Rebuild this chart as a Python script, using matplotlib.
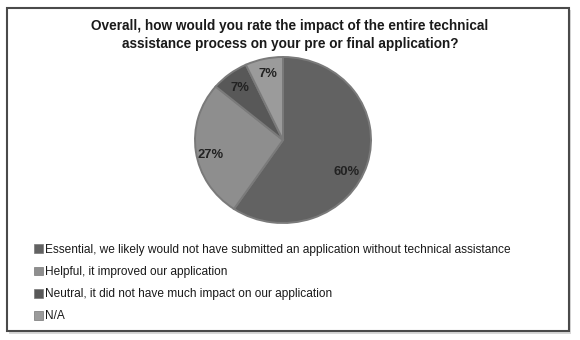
import matplotlib.pyplot as plt
from matplotlib.patches import Rectangle, Patch

plt.rcParams.update({'font.family': ['Liberation Sans', 'DejaVu Sans']})

# --- dados da pesquisa ---
categories = [
    'Essential, we likely would not have submitted an application without technical assistance',
    'Helpful, it improved our application',
    'Neutral, it did not have much impact on our application',
    'N/A',
]
percents = [60, 27, 7, 7]
colors = ['#626262', '#8e8e8e', '#585858', '#9b9b9b']
title = ('Overall, how would you rate the impact of the entire technical\n'
         'assistance process on your pre or final application?')

W, H = 580, 340
fig = plt.figure(figsize=(W / 100, H / 100), dpi=100)
fig.patch.set_facecolor('white')

# moldura com sombra leve (atrás dos eixos)
fig.patches.append(Rectangle((9 / W, 1 - 334 / H), 562 / W, 324 / H, transform=fig.transFigure,
                             facecolor='#d8d8d8', edgecolor='none', zorder=-2))
fig.patches.append(Rectangle((7 / W, 1 - 331 / H), 562 / W, 323 / H, transform=fig.transFigure,
                             facecolor='white', edgecolor='#4a4a4a', linewidth=1.5, zorder=-1))

fig.text(290 / W, 1 - 35 / H, title, ha='center', va='center', fontsize=9.8,
         fontweight='bold', color='#1a1a1a', linespacing=1.45)

# pizza (levemente elíptica)
cx, cy, rx, ry = 283, 140, 88, 83
ax = fig.add_axes([(cx - rx) / W, 1 - (cy + ry) / H, 2 * rx / W, 2 * ry / H])
wedges, _ = ax.pie(percents, colors=colors, startangle=90, counterclock=False,
                   radius=1.0, wedgeprops=dict(edgecolor='#7a7a7a', linewidth=1.4))
ax.set_aspect('auto')
ax.set_xlim(-1, 1)
ax.set_ylim(-1, 1)
ax.axis('off')

# rótulos percentuais
label_pos = [(0.72, -0.38), (-0.82, -0.18), (-0.49, 0.63), (-0.17, 0.8)]
for (x, y), p in zip(label_pos, percents):
    ax.text(x, y, f'{p}%', ha='center', va='center', fontsize=9.4,
            fontweight='bold', color='#222222')

# legenda
handles = [Patch(facecolor=c, edgecolor='#777777', linewidth=0.5) for c in colors]
fig.legend(handles, categories, loc='upper left', bbox_to_anchor=(34 / W, 1 - 244 / H),
           frameon=False, fontsize=8.6, handlelength=0.75, handleheight=0.75,
           handletextpad=0.2, labelspacing=0.85, borderaxespad=0, borderpad=0,
           labelcolor='#1a1a1a')

fig.savefig('out.png', dpi=100, facecolor='white')
